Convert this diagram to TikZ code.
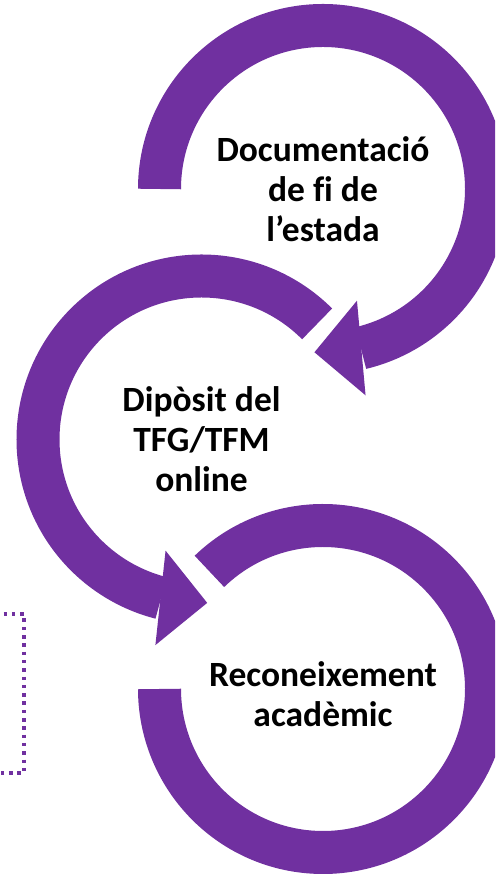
\documentclass[tikz,border=0pt]{standalone}
\usepackage{fontspec}
\setmainfont{Carlito}[Ligatures=NoCommon]
\usetikzlibrary{arrows.meta,bending}
\definecolor{ringViolet}{RGB}{112,48,160}

\tikzstyle{tS}=[align=center, inner sep = 0pt, font=\fontsize{35.5}{40}\selectfont\bfseries]
\tikzstyle{rS}=[line width = 43pt, draw=ringViolet]
\tikzstyle{aS}=[-{Triangle[width=95pt,length=47pt,line width=0pt,flex]}]
\tikzstyle{bS}=[line width = 3.5pt, draw=ringViolet, dash pattern=on 3.5pt off 4.8pt]

\begin{document}
\begin{tikzpicture}[x=1pt,y=1pt]
    \useasboundingbox (0,0) rectangle (495,874);
    \clip (0,0) rectangle (495,874);
    \coordinate (c1) at (323,685);
    \coordinate (c2) at (201.5,434.5);
    \coordinate (c3) at (323,185);
    \draw (c1) node[tS] (doc) {Documentació\\de fi de\\l’estada};
    \draw (c2) node[tS] (dip) {Dipòsit del\\TFG/TFM\\online};
    \draw ([yshift=-5pt]c3) node[tS] (rec) {Reconeixement\\acadèmic};
    % rings round the steps
    \draw[rS,aS] (c1) ++(180:163.5) arc[start angle=180, end angle=-93, radius=163.5];
    \draw[rS,aS] (c2) ++(45:163.5) arc[start angle=45, end angle=272, radius=163.5];
    \draw[rS] (c3) ++(134:163.5) arc[start angle=134, end angle=-180, radius=163.5];
    \draw[bS] (-20,101) rectangle (24,260);
\end{tikzpicture}
\end{document}
